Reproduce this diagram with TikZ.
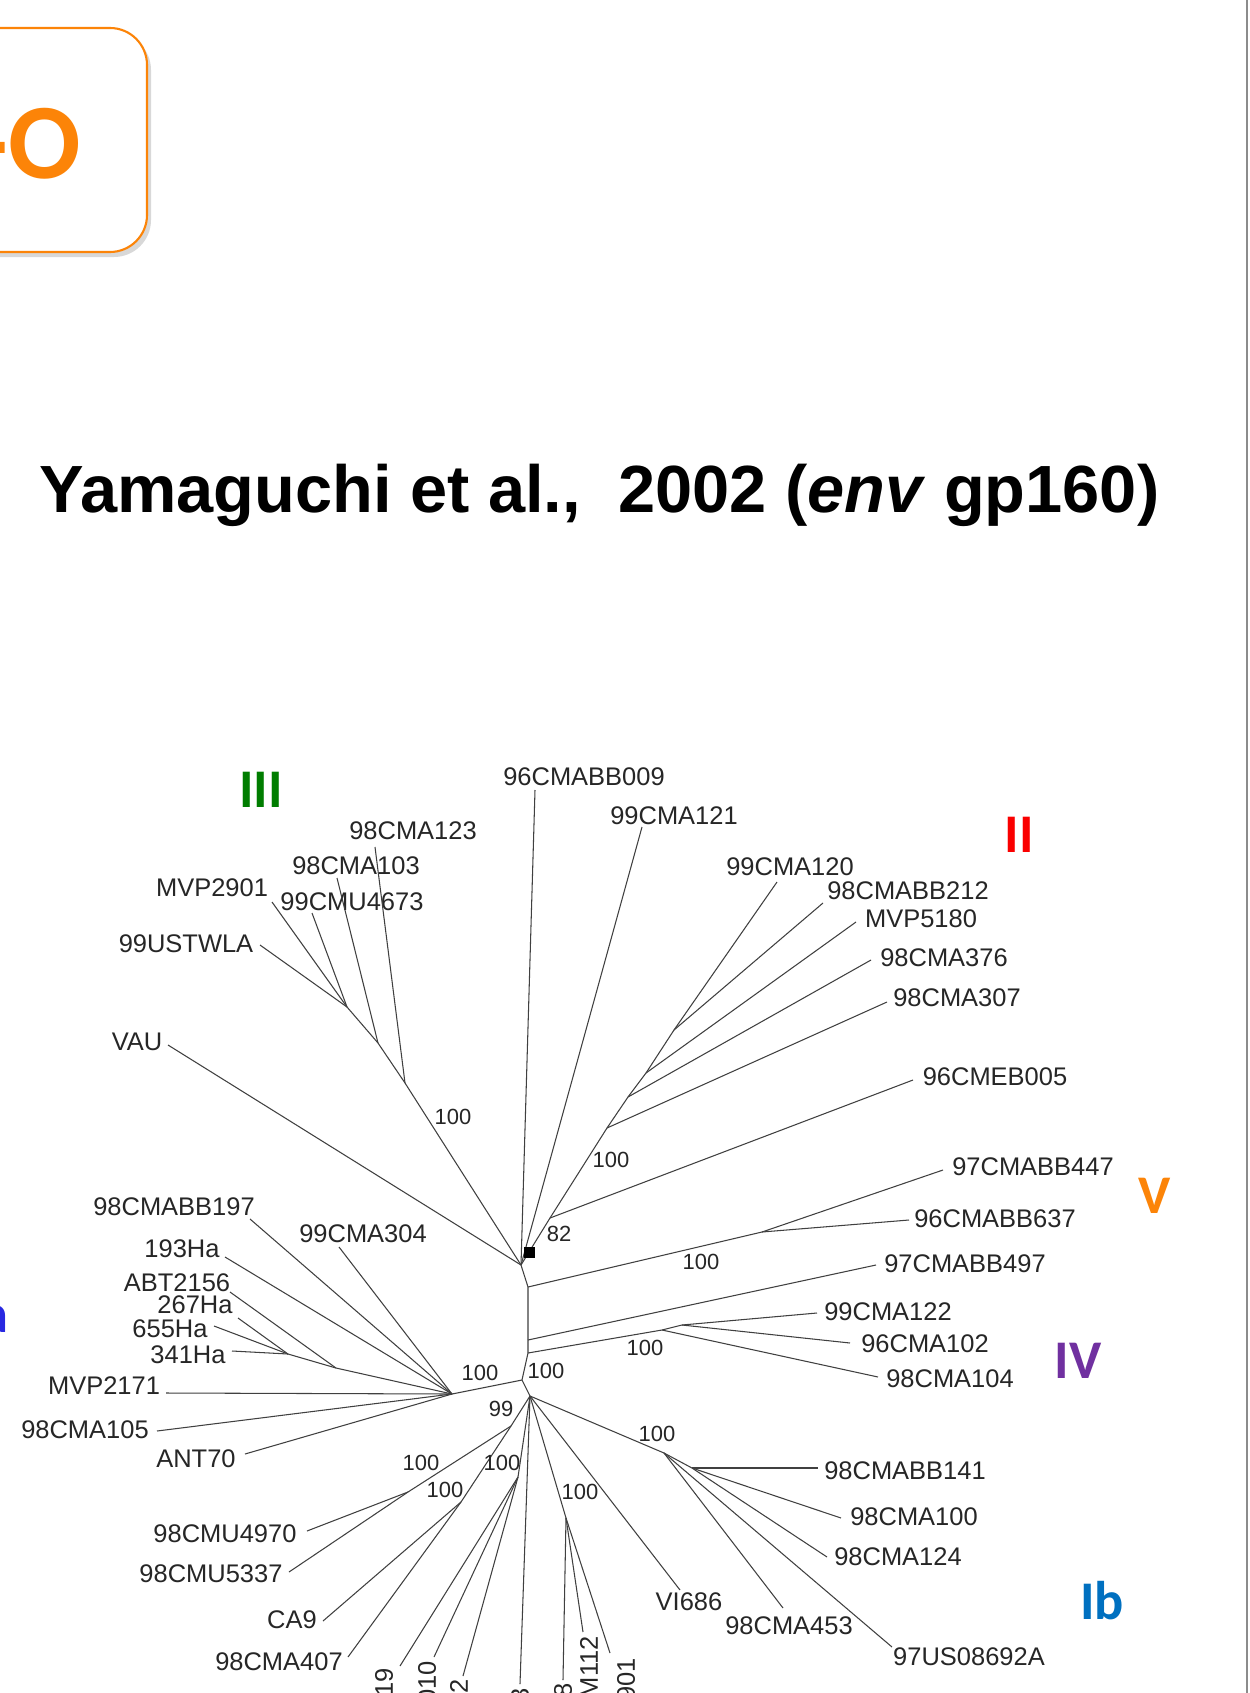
\documentclass[tikz,border=0pt]{standalone}
\usepackage{fontspec}
\setmainfont{Liberation Sans}
\newfontfamily\slidefont{Carlito}

\definecolor{boxorange}{RGB}{252,132,8}
\definecolor{cladegreen}{RGB}{0,125,0}
\definecolor{cladered}{RGB}{250,0,0}
\definecolor{cladepurple}{RGB}{112,48,160}
\definecolor{cladeblue}{RGB}{0,112,192}
\definecolor{iablue}{RGB}{40,40,225}

\begin{document}
\begin{tikzpicture}[x=0.02cm, y=-0.02cm,
    leaf/.style={inner sep=0pt, text=black!85, font=\fontsize{14.5}{16}\selectfont},
    rotleaf/.style={leaf, rotate=90, anchor=east},
    boot/.style={inner sep=0pt, text=black!85, font=\fontsize{12.5}{14}\selectfont},
    clade/.style={inner sep=0pt, font=\slidefont\bfseries\fontsize{31}{34}\selectfont},
    branch/.style={draw=black!75, line width=0.6pt}]

\clip (0,0) rectangle (1249,1693);
\fill[white] (0,0) rectangle (1249,1693);

% Slide box and title
\fill[black!30, opacity=0.5, rounded corners=0.74cm] (-57,33) rectangle (151,257);
\draw[boxorange, line width=1.2pt, fill=white, rounded corners=0.74cm] (-60,28) rectangle (147,252);
\node[anchor=base east, inner sep=0pt, text=boxorange, font=\slidefont\bfseries\fontsize{61}{64}\selectfont] (boxtext) at (81,179) {-O};
\node[anchor=base west, inner sep=0pt, font=\bfseries\fontsize{38}{44}\selectfont] (title) at (39,512) {Yamaguchi et al.,\ \ 2002 (\textit{env} gp160)};
\draw[black!45, line width=1.2pt] (1247,0) -- (1247,1693);

% Internal nodes
\coordinate (r) at (521,1265);
\coordinate (n3c) at (405,1083);
\coordinate (n3b) at (378,1043);
\coordinate (n3a) at (347,1007);
\coordinate (n2e) at (550,1218);
\coordinate (n2d) at (607,1128);
\coordinate (n2c) at (628,1097);
\coordinate (n2b) at (646,1073);
\coordinate (n2a) at (674,1030);
\coordinate (m1) at (528,1287);
\coordinate (nv) at (762,1232);
\coordinate (m2) at (528,1340);
\coordinate (m3) at (528,1353);
\coordinate (n4b) at (662,1330);
\coordinate (n4a) at (682,1325);
\coordinate (m4) at (522,1380);
\coordinate (nia) at (452,1394);
\coordinate (h2) at (336,1368);
\coordinate (h1) at (288,1354);
\coordinate (b) at (530,1396);
\coordinate (n99) at (511,1426);
\coordinate (nu) at (408,1492);
\coordinate (nc) at (461,1502);
\coordinate (nb) at (518,1477);
\coordinate (nm) at (566,1518);
\coordinate (nib) at (664,1453);
\coordinate (nib2) at (692,1468);

% Clade III
\node[leaf] (l98cma123) at (413,831) {98CMA123};
\node[leaf] (l98cma103) at (356,866) {98CMA103};
\node[leaf] (l99cmu4673) at (352,902) {99CMU4673};
\node[leaf] (lmvp2901) at (212,888) {MVP2901};
\node[leaf] (l99ustwla) at (186,944) {99USTWLA};
\node[leaf] (lvau) at (137,1042) {VAU};
\coordinate (t98cma123) at (375,847);
\coordinate (t98cma103) at (337,878);
\coordinate (t99cmu4673) at (312,913);
\coordinate (tmvp2901) at (272,902);
\coordinate (t99ustwla) at (260,945);
\coordinate (tvau) at (168,1045);
\draw[branch] (r) -- (n3c) -- (n3b) -- (n3a);
\draw[branch] (n3c) -- (t98cma123);
\draw[branch] (n3b) -- (t98cma103);
\draw[branch] (n3a) -- (t99cmu4673);
\draw[branch] (n3a) -- (tmvp2901);
\draw[branch] (n3a) -- (t99ustwla);
\draw[branch] (r) -- (tvau);

% Top leaves
\node[leaf] (l96cmabb009) at (584,777) {96CMABB009};
\node[leaf] (l99cma121) at (674,816) {99CMA121};
\coordinate (t96cmabb009) at (535,790);
\coordinate (t99cma121) at (642,827);
\draw[branch] (r) -- (t96cmabb009);
\draw[branch] (r) -- (t99cma121);

% Clade II
\node[leaf] (l99cma120) at (790,867) {99CMA120};
\node[leaf] (l98cmabb212) at (908,891) {98CMABB212};
\node[leaf] (lmvp5180) at (921,919) {MVP5180};
\node[leaf] (l98cma376) at (944,958) {98CMA376};
\node[leaf] (l98cma307) at (957,998) {98CMA307};
\node[leaf] (l96cmeb005) at (995,1077) {96CMEB005};
\coordinate (t99cma120) at (777,882);
\coordinate (t98cmabb212) at (823,903);
\coordinate (tmvp5180) at (856,922);
\coordinate (t98cma376) at (871,960);
\coordinate (t98cma307) at (887,1002);
\coordinate (t96cmeb005) at (913,1080);
\draw[branch] (r) -- (n2e) -- (n2d) -- (n2c) -- (n2b) -- (n2a);
\draw[branch] (n2a) -- (t99cma120);
\draw[branch] (n2a) -- (t98cmabb212);
\draw[branch] (n2b) -- (tmvp5180);
\draw[branch] (n2c) -- (t98cma376);
\draw[branch] (n2d) -- (t98cma307);
\draw[branch] (n2e) -- (t96cmeb005);

% Main stem
\draw[branch] (r) -- (m1) -- (m2) -- (m3) -- (m4) -- (b);

% Clade V
\node[leaf] (l97cmabb447) at (1033,1167) {97CMABB447};
\node[leaf] (l96cmabb637) at (995,1219) {96CMABB637};
\node[leaf] (l97cmabb497) at (965,1264) {97CMABB497};
\coordinate (t97cmabb447) at (943,1170);
\coordinate (t96cmabb637) at (909,1220);
\coordinate (t97cmabb497) at (876,1265);
\draw[branch] (m1) -- (nv) -- (t97cmabb447);
\draw[branch] (nv) -- (t96cmabb637);
\draw[branch] (m2) -- (t97cmabb497);

% Clade IV
\node[leaf] (l99cma122) at (888,1312) {99CMA122};
\node[leaf] (l96cma102) at (925,1344) {96CMA102};
\node[leaf] (l98cma104) at (950,1379) {98CMA104};
\coordinate (t99cma122) at (817,1313);
\coordinate (t96cma102) at (850,1343);
\coordinate (t98cma104) at (878,1377);
\draw[branch] (m3) -- (n4b) -- (n4a);
\draw[branch] (n4a) -- (t99cma122);
\draw[branch] (n4a) -- (t96cma102);
\draw[branch] (n4b) -- (t98cma104);

% Clade Ia
\node[leaf] (l98cmabb197) at (174,1207) {98CMABB197};
\node[leaf] (l99cma304) at (363,1234) {99CMA304};
\node[leaf] (l193ha) at (182,1249) {193Ha};
\node[leaf] (labt2156) at (177,1283) {ABT2156};
\node[leaf] (l267ha) at (195,1305) {267Ha};
\node[leaf] (l655ha) at (170,1329) {655Ha};
\node[leaf] (l341ha) at (188,1355) {341Ha};
\node[leaf] (lmvp2171) at (104,1386) {MVP2171};
\node[leaf] (l98cma105) at (85,1430) {98CMA105};
\node[leaf] (lant70) at (196,1459) {ANT70};
\coordinate (t98cmabb197) at (250,1219);
\coordinate (t99cma304) at (339,1247);
\coordinate (t193ha) at (225,1257);
\coordinate (tabt2156) at (230,1292);
\coordinate (t267ha) at (238,1318);
\coordinate (t655ha) at (214,1326);
\coordinate (t341ha) at (232,1351);
\coordinate (tmvp2171) at (166,1393);
\coordinate (t98cma105) at (157,1431);
\coordinate (tant70) at (245,1454);
\draw[branch] (m4) -- (nia);
\draw[branch] (nia) -- (t98cmabb197);
\draw[branch] (nia) -- (t99cma304);
\draw[branch] (nia) -- (t193ha);
\draw[branch] (nia) -- (h2) -- (h1);
\draw[branch] (h2) -- (tabt2156);
\draw[branch] (h1) -- (t267ha);
\draw[branch] (h1) -- (t655ha);
\draw[branch] (h1) -- (t341ha);
\draw[branch] (nia) -- (tmvp2171);
\draw[branch] (nia) -- (t98cma105);
\draw[branch] (nia) -- (tant70);

% Lower group
\node[leaf] (l98cmu4970) at (225,1534) {98CMU4970};
\node[leaf] (l98cmu5337) at (211,1574) {98CMU5337};
\node[leaf] (lca9) at (292,1620) {CA9};
\node[leaf] (l98cma407) at (279,1662) {98CMA407};
\node[rotleaf] (l19) at (384,1668) {19};
\node[rotleaf] (l010) at (427,1661) {010};
\node[rotleaf] (l2) at (459,1679) {2};
\node[rotleaf] (l3) at (520,1688) {3};
\node[rotleaf] (l8) at (563,1683) {8};
\node[rotleaf] (lm112) at (589,1636) {M112};
\node[rotleaf] (l901) at (626,1658) {901};
\node[leaf] (lvi686) at (689,1602) {VI686};
\coordinate (t98cmu4970) at (307,1531);
\coordinate (t98cmu5337) at (289,1572);
\coordinate (tca9) at (323,1621);
\coordinate (t98cma407) at (348,1657);
\coordinate (t19) at (400,1666);
\coordinate (t010) at (434,1657);
\coordinate (t2) at (463,1676);
\coordinate (t3) at (520,1684);
\coordinate (t8) at (563,1680);
\coordinate (tm112) at (583,1632);
\coordinate (t901) at (610,1653);
\coordinate (tvi686) at (680,1590);
\draw[branch] (b) -- (n99) -- (nu);
\draw[branch] (nu) -- (t98cmu4970);
\draw[branch] (nu) -- (t98cmu5337);
\draw[branch] (n99) -- (nc);
\draw[branch] (nc) -- (tca9);
\draw[branch] (nc) -- (t98cma407);
\draw[branch] (b) -- (nb);
\draw[branch] (nb) -- (t19);
\draw[branch] (nb) -- (t010);
\draw[branch] (nb) -- (t2);
\draw[branch] (b) -- (t3);
\draw[branch] (b) -- (nm);
\draw[branch] (nm) -- (t8);
\draw[branch] (nm) -- (tm112);
\draw[branch] (nm) -- (t901);
\draw[branch] (b) -- (tvi686);

% Clade Ib
\node[leaf] (l98cmabb141) at (905,1471) {98CMABB141};
\node[leaf] (l98cma100) at (914,1517) {98CMA100};
\node[leaf] (l98cma124) at (898,1557) {98CMA124};
\node[leaf] (l98cma453) at (789,1626) {98CMA453};
\node[leaf] (l97us08692a) at (969,1657) {97US08692A};
\coordinate (t98cmabb141) at (818,1468);
\coordinate (t98cma100) at (841,1518);
\coordinate (t98cma124) at (827,1557);
\coordinate (t98cma453) at (783,1608);
\coordinate (t97us08692a) at (892,1647);
\draw[branch] (b) -- (nib) -- (nib2);
\draw[branch] (nib2) -- (t98cmabb141);
\draw[branch] (nib2) -- (t98cma100);
\draw[branch] (nib2) -- (t98cma124);
\draw[branch] (nib) -- (t98cma453);
\draw[branch] (nib) -- (t97us08692a);

% Root marker
\node[fill=black, minimum size=0.22cm, inner sep=0pt] (sq) at (529,1252) {};

% Bootstrap values
\node[boot] (bs3) at (453,1117) {100};
\node[boot] (bs2) at (611,1160) {100};
\node[boot] (bs82) at (559,1234) {82};
\node[boot] (bs5) at (701,1262) {100};
\node[boot] (bs4) at (645,1348) {100};
\node[boot] (bsm) at (546,1371) {100};
\node[boot] (bsia) at (480,1373) {100};
\node[boot] (bs99) at (501,1409) {99};
\node[boot] (bsu) at (421,1463) {100};
\node[boot] (bsb) at (502,1463) {100};
\node[boot] (bsc) at (445,1490) {100};
\node[boot] (bsm112) at (580,1492) {100};
\node[boot] (bsib) at (657,1434) {100};

% Subtype labels
\node[clade, text=cladegreen] (c3) at (261,790) {III};
\node[clade, text=cladered] (c2) at (1019,835) {II};
\node[clade, text=boxorange] (c5) at (1155,1196) {V};
\node[clade, text=cladepurple] (c4) at (1078,1361) {IV};
\node[clade, text=cladeblue] (c1b) at (1102,1601) {Ib};
\node[clade, text=iablue, anchor=base east] (c1a) at (9,1332) {Ia};

\end{tikzpicture}
\end{document}
